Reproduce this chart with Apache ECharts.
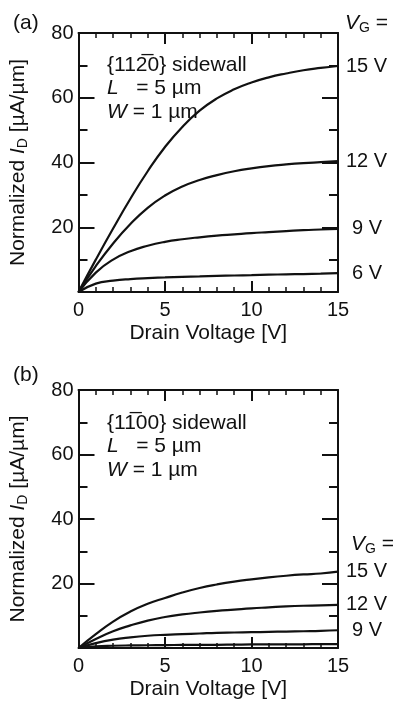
<!DOCTYPE html>
<html>
<head>
<meta charset="utf-8">
<script src="https://cdn.jsdelivr.net/npm/echarts@6/dist/echarts.min.js"></script>
<style>
  html, body { margin: 0; padding: 0; background: #fff; }
  #chart { width: 394px; height: 704px; }
</style>
</head>
<body>
<div id="chart"></div>
<script>
// drain voltage samples (V)
const drainVoltage = [0, 1, 2, 3, 4, 5, 6, 7, 8, 9, 10, 11, 12, 13, 14, 15];

// (a) {11-20} sidewall, normalized I_D (uA/um)
const a15 = [0, 10, 19.6, 28.8, 37.3, 44.8, 51, 56, 59.8, 62.6, 64.7, 66.3, 67.5, 68.5, 69.2, 69.8];
const a12 = [0, 8, 15, 21, 26, 29.8, 32.6, 34.6, 36.1, 37.3, 38.2, 38.9, 39.4, 39.8, 40.1, 40.4];
const a9 = [0, 6, 10, 12.6, 14.3, 15.5, 16.3, 16.9, 17.4, 17.8, 18.2, 18.5, 18.8, 19.1, 19.3, 19.5];
const a6 = [0, 2.6, 3.5, 4, 4.3, 4.5, 4.7, 4.85, 5, 5.1, 5.2, 5.35, 5.45, 5.55, 5.65, 5.8];

// (b) {1-100} sidewall
const b15 = [0, 4.3, 8.2, 11.3, 13.7, 15.5, 17.2, 18.6, 19.7, 20.6, 21.3, 21.9, 22.4, 22.8, 23.1, 23.7];
const b12 = [0, 2.8, 5.2, 7, 8.5, 9.6, 10.4, 11, 11.5, 11.9, 12.3, 12.6, 12.9, 13.1, 13.2, 13.4];
const b9 = [0, 1.5, 2.6, 3.3, 3.8, 4.1, 4.3, 4.5, 4.7, 4.8, 4.9, 5.0, 5.1, 5.2, 5.3, 5.5];
const b6 = [0, 0.5, 0.7, 0.8, 0.85, 0.9, 0.95, 1.0, 1.0, 1.05, 1.1, 1.1, 1.15, 1.15, 1.2, 1.2];

const FONT = 'Liberation Sans, Arial, sans-serif';
const INK = '#111';

const rich = {
  i: { fontFamily: FONT, fontSize: 21, fontStyle: 'italic', color: INK, lineHeight: 24 },
  n: { fontFamily: FONT, fontSize: 21, color: INK, lineHeight: 24 },
  sub: { fontFamily: FONT, fontSize: 14, color: INK, lineHeight: 13, verticalAlign: 'bottom' }
};

const chart = echarts.init(document.getElementById('chart'));

function xAxes(g) {
  const base = {
    gridIndex: g, type: 'value', min: 0, max: 15, interval: 5,
    axisLine: { onZero: false, lineStyle: { color: INK, width: 2 } },
    axisTick: { inside: true, length: 11, lineStyle: { color: INK, width: 2 } },
    minorTick: { show: true, splitNumber: 5, length: 5, lineStyle: { color: INK, width: 1.5 } },
    splitLine: { show: false }
  };
  return [
    Object.assign({}, base, {
      position: 'bottom',
      axisLabel: { fontFamily: FONT, fontSize: 20, color: INK, margin: 8 },
      name: 'Drain Voltage [V]', nameLocation: 'middle', nameGap: 31,
      nameTextStyle: { fontFamily: FONT, fontSize: 21, color: INK }
    }),
    Object.assign({}, base, { position: 'top', axisLabel: { show: false } })
  ];
}

function yAxes(g) {
  const base = {
    gridIndex: g, type: 'value', min: 0, max: 80, interval: 20,
    axisLine: { onZero: false, lineStyle: { color: INK, width: 2 } },
    axisTick: { inside: true, length: 16, lineStyle: { color: INK, width: 2 } },
    minorTick: { show: true, splitNumber: 2, length: 9, lineStyle: { color: INK, width: 2 } },
    splitLine: { show: false }
  };
  return [
    Object.assign({}, base, {
      position: 'left',
      axisLabel: { fontFamily: FONT, fontSize: 20, color: INK, margin: 5, showMinLabel: false },
      name: '{n|Normalized }{i|I}{sub|D}{n| [µA/µm]}', nameLocation: 'middle', nameGap: 48,
      nameTextStyle: { fontFamily: FONT, fontSize: 21, color: INK, rich: rich }
    }),
    Object.assign({}, base, { position: 'right', axisLabel: { show: false } })
  ];
}

function curve(g, values, label) {
  return {
    type: 'line', xAxisIndex: g * 2, yAxisIndex: g * 2,
    data: drainVoltage.map((v, i) => [v, values[i]]),
    smooth: 0.5, showSymbol: false, silent: true,
    lineStyle: { color: INK, width: 2.2 },
    endLabel: {
      show: !!label, formatter: label || '',
      distance: label && label.length < 4 ? 14 : 8,
      fontFamily: FONT, fontSize: 20, color: INK
    }
  };
}

function headText(left, top, text) {
  return {
    left: left, top: top, text: text,
    textStyle: { fontFamily: FONT, fontSize: 21, fontWeight: 'normal', color: INK, lineHeight: 21, rich: rich }
  };
}

chart.setOption({
  animation: false,
  backgroundColor: '#fff',
  grid: [
    { left: 77, top: 33, width: 261, height: 259 },
    { left: 77, top: 390, width: 261, height: 258 }
  ],
  xAxis: xAxes(0).concat(xAxes(1)),
  yAxis: yAxes(0).concat(yAxes(1)),
  title: [
    headText(8, 6, '{n|(a)}'),
    headText(340, 6, '{i|V}{sub|G}{n| =}'),
    headText(102, 50, '{112\u03050} sidewall\n{i|L}{n|   = 5 µm}\n{i|W}{n| = 1 µm}'),
    headText(8, 358, '{n|(b)}'),
    headText(346, 527, '{i|V}{sub|G}{n| =}'),
    headText(102, 408, '{11\u030500} sidewall\n{i|L}{n|   = 5 µm}\n{i|W}{n| = 1 µm}')
  ],
  series: [
    curve(0, a15, '15 V'), curve(0, a12, '12 V'), curve(0, a9, '9 V'), curve(0, a6, '6 V'),
    curve(1, b15, '15 V'), curve(1, b12, '12 V'), curve(1, b9, '9 V'), curve(1, b6, '')
  ]
});
</script>
</body>
</html>
